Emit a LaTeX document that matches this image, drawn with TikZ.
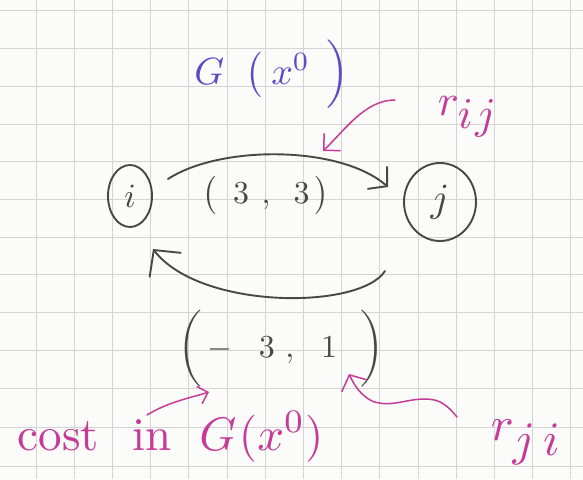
\documentclass[tikz,border=0pt]{standalone}
\usetikzlibrary{arrows.meta,shapes.geometric}
\definecolor{paper}{RGB}{251,251,249}
\definecolor{gridc}{RGB}{212,212,212}
\definecolor{ink}{RGB}{72,72,72}
\definecolor{bluepen}{RGB}{88,78,195}
\definecolor{pinkpen}{RGB}{198,58,152}
\tikzset{
  gridline/.style={draw=gridc, line width=0.8pt},
  inkline/.style={draw=ink, line width=1.9pt, line cap=round, line join=round},
  pinkline/.style={draw=pinkpen, line width=1.5pt, line cap=round, line join=round},
  ovalnode/.style={ellipse, draw=ink, line width=1.9pt, inner sep=0pt, text=ink},
  inktext/.style={text=ink, inner sep=0pt},
  bluetext/.style={text=bluepen, inner sep=0pt},
  pinktext/.style={text=pinkpen, inner sep=0pt}
}
\begin{document}
\begin{tikzpicture}[x=1pt,y=-1pt]
\fill[paper] (0,0) rectangle (583,479);
\useasboundingbox (0,0) rectangle (583,479);
% grid paper
\foreach \k in {0,...,14} \draw[gridline] ({36+38.2*\k},0) -- ({36+38.2*\k},479);
\foreach \yy in {10,48,86,124,161,199,237,274,312,350,388,427,466} \draw[gridline] (0,\yy) -- (583,\yy);

% nodes
\node[ovalnode, minimum width=44pt, minimum height=62pt] (i) at (130,196) {};
\node[inktext, scale=3.4] (ilab) at (i.center) {$i$};
\node[ovalnode, minimum width=72pt, minimum height=78pt] (j) at (440,202) {};
\node[inktext, scale=4] (jlab) at (j.center) {$j$};

% arcs
\draw[inkline, -{Straight Barb[length=13pt,width=30pt]}]
  ([shift={(38,-17)}]i.center) .. controls (220,145) and (340,145) .. ([shift={(-52,-15)}]j.center);
\draw[inkline, -{Straight Barb[length=19pt,width=40pt]}]
  ([shift={(-55,69)}]j.center) .. controls (360,310) and (200,310) .. ([shift={(23,53)}]i.center);

% labels
\node[bluetext, anchor=base, scale=3.8] (gx) at (272,84) {$G\mkern10mu\big(\mkern4mu x^{0}\mkern8mu\Big)$};
\node[inktext, anchor=base, scale=3.2] (c1) at (266,203) {$\big(\mkern9mu 3\mkern7mu,\mkern10mu 3\mkern3mu\big)$};
\node[inktext, anchor=base, scale=3.2] (c2) at (281,357) {$\bigg(\mkern3mu{-}\mkern15mu 3\mkern6mu,\mkern12mu 1\mkern13mu\bigg)$};
\node[pinktext, anchor=base west, scale=4.4] (rij) at (437,115) {$r_{\textstyle i\mkern1mu j}$};
\node[pinktext, anchor=base west, scale=4.8] (rji) at (490,440) {$r_{\textstyle j\mkern3mu i}$};
\node[pinktext, anchor=base west, scale=4.7] (cost) at (17,450) {cost\hspace{0.7em}in\hspace{0.6em}$G\mkern1mu(x^{0})$};

% pink pointers
\coordinate (pk) at (323,151);
\coordinate (ca) at (209,392);
\coordinate (ra) at (349,374);
\draw[pinkline, -{Straight Barb[length=12pt,width=24pt]}]
  ([shift={(-42,-15)}]rij.base west) .. controls (365,100) and (345,130) .. (pk);
\draw[pinkline, -{Straight Barb[length=9pt,width=18pt]}]
  ([shift={(130,-35)}]cost.base west) .. controls (168,402) and (190,398) .. (ca);
\draw[pinkline, -{Straight Barb[length=12pt,width=28pt]}]
  ([shift={(-33,-23)}]rji.base west) .. controls (447,405) and (440,399) .. (425,399)
  .. controls (405,399) and (390,408) .. (372,401)
  .. controls (362,396) and (355,387) .. (ra);
\end{tikzpicture}
\end{document}
